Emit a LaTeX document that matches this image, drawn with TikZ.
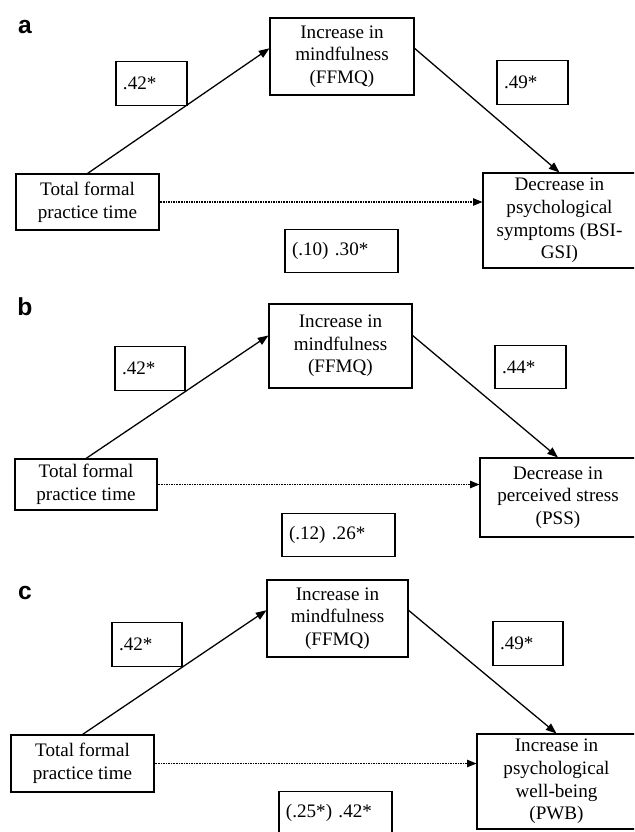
\documentclass[tikz,border=0pt]{standalone}
\usepackage{fontspec}
\setmainfont{Liberation Serif}
\newfontfamily\panelfont{Liberation Sans}
\usetikzlibrary{arrows.meta,positioning}

\begin{document}
\begin{tikzpicture}[
    x=0.03cm, y=-0.03cm,
    varbox/.style={draw, line width=0.9pt, align=center, font=\fontsize{16.3}{19.3}\selectfont, inner sep=0pt},
    coefbox/.style={draw, line width=0.9pt, align=left, font=\fontsize{16.3}{19.3}\selectfont, inner xsep=0.21cm, inner ysep=0pt, text width=#1, minimum height=1.3cm},
    arrow/.style={-{Triangle[length=3.2mm,width=2.4mm]}, line width=1.1pt},
    direct/.style={-{Triangle[length=2.8mm,width=2.2mm]}, line width=1.1pt, dash pattern=on 0.8pt off 0.6pt},
    panel/.style={font=\panelfont\bfseries\fontsize{21}{21}\selectfont}
  ]
    \useasboundingbox (0,0) rectangle (634,832);
    \clip (0,0) rectangle (634,832);

    % panel a
    \node[panel] (lblA) at (25,27) {a};
    \node[varbox, minimum width=4.32cm, minimum height=2.31cm] (medA) at (342,56.5) {Increase in\\mindfulness\\(FFMQ)};
    \node[varbox, minimum width=4.29cm, minimum height=1.68cm] (totA) at (87.5,202) {Total formal\\practice time};
    \node[varbox, minimum width=4.59cm, minimum height=2.85cm] (outA) at (559.5,220.5) {Decrease in\\psychological\\symptoms (BSI-\\GSI)};
    \node[coefbox=1.71cm] (aA) at (151.5,83.5) {.42*};
    \node[coefbox=1.71cm] (bA) at (532.5,82.5) {.49*};
    \node[coefbox=2.97cm] (cA) at (341.5,251) {(.10) .30*};
    \draw[arrow] (totA.north) -- ([yshift=7pt]medA.west);
    \draw[arrow] ([yshift=7pt]medA.east) -- (outA.north);
    \draw[direct] (totA.east) -- (totA.east -| outA.west);

    % panel b
    \node[panel] (lblB) at (25,307) {b};
    \node[varbox, minimum width=4.29cm, minimum height=2.52cm] (medB) at (340.5,346) {Increase in\\mindfulness\\(FFMQ)};
    \node[varbox, minimum width=4.26cm, minimum height=1.53cm] (totB) at (86,484.5) {Total formal\\practice time};
    \node[varbox, minimum width=4.68cm, minimum height=2.37cm] (outB) at (558,497.5) {Decrease in\\perceived stress\\(PSS)};
    \node[coefbox=1.68cm] (aB) at (150,368.5) {.42*};
    \node[coefbox=1.71cm] (bB) at (530.5,367) {.44*};
    \node[coefbox=2.97cm] (cB) at (338.5,535) {(.12) .26*};
    \draw[arrow] (totB.north) -- ([yshift=9pt]medB.west);
    \draw[arrow] ([yshift=9pt]medB.east) -- (outB.north);
    \draw[direct] (totB.east) -- (totB.east -| outB.west);

    % panel c
    \node[panel] (lblC) at (25,593) {c};
    \node[varbox, minimum width=4.23cm, minimum height=2.31cm] (medC) at (337.5,618.5) {Increase in\\mindfulness\\(FFMQ)};
    \node[varbox, minimum width=4.29cm, minimum height=1.71cm] (totC) at (82.5,763.5) {Total formal\\practice time};
    \node[varbox, minimum width=4.77cm, minimum height=2.85cm] (outC) at (556.5,781.5) {Increase in\\psychological\\well-being\\(PWB)};
    \node[coefbox=1.68cm] (aC) at (147,644.5) {.42*};
    \node[coefbox=1.68cm] (bC) at (528,643.5) {.49*};
    \node[coefbox=2.97cm] (cC) at (335.5,813) {(.25*) .42*};
    \draw[arrow] (totC.north) -- ([yshift=7pt]medC.west);
    \draw[arrow] ([yshift=7pt]medC.east) -- (outC.north);
    \draw[direct] (totC.east) -- (totC.east -| outC.west);
  \end{tikzpicture}
\end{document}
